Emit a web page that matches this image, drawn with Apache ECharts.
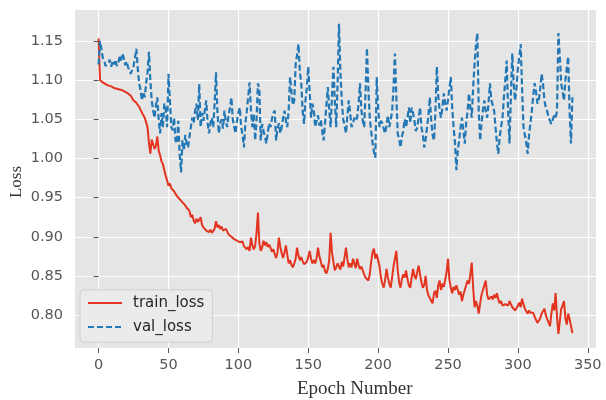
<!DOCTYPE html>
<html>
<head>
<meta charset="utf-8">
<title>Loss curves</title>
<script src="https://cdn.jsdelivr.net/npm/echarts@6/dist/echarts.min.js"></script>
<style>
  html, body { margin: 0; padding: 0; background: #ffffff; }
  #chart { width: 606px; height: 400px; }
</style>
</head>
<body>
<div id="chart"></div>
<script>
// Training loss per epoch (epochs 0..339)
const trainLoss = [
  1.153, 1.100, 1.099, 1.097, 1.098, 1.095, 1.096, 1.093, 1.094, 1.092,
  1.093, 1.090, 1.091, 1.089, 1.090, 1.088, 1.089, 1.087, 1.088, 1.085,
  1.086, 1.083, 1.084, 1.080, 1.077, 1.074, 1.075, 1.071, 1.070, 1.066,
  1.062, 1.060, 1.055, 1.052, 1.046, 1.040, 1.020, 1.006, 1.024, 1.018,
  1.012, 1.016, 1.028, 1.010, 1.004, 0.996, 0.993, 0.985, 0.978, 0.972,
  0.965, 0.968, 0.962, 0.963, 0.958, 0.955, 0.952, 0.950, 0.948, 0.946,
  0.944, 0.946, 0.940, 0.937, 0.939, 0.933, 0.925, 0.928, 0.921, 0.917,
  0.923, 0.919, 0.921, 0.925, 0.915, 0.912, 0.914, 0.908, 0.910, 0.906,
  0.909, 0.905, 0.903, 0.910, 0.920, 0.912, 0.915, 0.910, 0.913, 0.908,
  0.906, 0.910, 0.907, 0.903, 0.905, 0.900, 0.902, 0.897, 0.899, 0.895,
  0.897, 0.893, 0.891, 0.894, 0.888, 0.890, 0.884, 0.887, 0.882, 0.899,
  0.889, 0.884, 0.888, 0.905, 0.931, 0.892, 0.882, 0.886, 0.895, 0.889,
  0.893, 0.887, 0.890, 0.886, 0.881, 0.884, 0.878, 0.873, 0.880, 0.899,
  0.887, 0.879, 0.873, 0.880, 0.889, 0.877, 0.866, 0.870, 0.864, 0.861,
  0.866, 0.872, 0.886, 0.876, 0.870, 0.874, 0.869, 0.865, 0.863, 0.868,
  0.874, 0.882, 0.872, 0.866, 0.870, 0.866, 0.873, 0.886, 0.875, 0.868,
  0.861, 0.864, 0.856, 0.853, 0.859, 0.870, 0.905, 0.880, 0.868, 0.857,
  0.861, 0.866, 0.862, 0.858, 0.868, 0.862, 0.874, 0.886, 0.871, 0.861,
  0.866, 0.861, 0.872, 0.866, 0.860, 0.872, 0.864, 0.859, 0.862, 0.857,
  0.852, 0.848, 0.846, 0.844, 0.852, 0.868, 0.880, 0.885, 0.872, 0.878,
  0.876, 0.862, 0.848, 0.840, 0.835, 0.845, 0.859, 0.848, 0.840, 0.835,
  0.848, 0.862, 0.872, 0.882, 0.858, 0.842, 0.835, 0.846, 0.852, 0.848,
  0.857, 0.846, 0.838, 0.835, 0.848, 0.859, 0.850, 0.846, 0.855, 0.863,
  0.852, 0.842, 0.835, 0.838, 0.850, 0.832, 0.825, 0.822, 0.818, 0.815,
  0.828, 0.831, 0.822, 0.838, 0.844, 0.832, 0.840, 0.836, 0.845, 0.855,
  0.872, 0.845, 0.835, 0.828, 0.836, 0.832, 0.838, 0.840, 0.826, 0.830,
  0.818, 0.826, 0.832, 0.838, 0.844, 0.840, 0.852, 0.867, 0.835, 0.810,
  0.818, 0.812, 0.802, 0.815, 0.826, 0.832, 0.838, 0.844, 0.826, 0.820,
  0.818, 0.824, 0.820, 0.826, 0.822, 0.828, 0.820, 0.815, 0.818, 0.812,
  0.810, 0.814, 0.816, 0.812, 0.818, 0.814, 0.810, 0.812, 0.806, 0.808,
  0.812, 0.816, 0.810, 0.821, 0.814, 0.808, 0.805, 0.802, 0.806, 0.803,
  0.805, 0.803, 0.798, 0.794, 0.790, 0.789, 0.796, 0.802, 0.805, 0.808,
  0.800, 0.795, 0.793, 0.786, 0.802, 0.815, 0.806, 0.828, 0.798, 0.776,
  0.792, 0.808, 0.812, 0.818, 0.796, 0.788, 0.802, 0.795, 0.786, 0.777
];

// Validation loss per epoch (epochs 0..339)
const valLoss = [
  1.120, 1.150, 1.140, 1.128, 1.125, 1.118, 1.117, 1.122, 1.126, 1.117,
  1.125, 1.120, 1.126, 1.118, 1.121, 1.130, 1.125, 1.134, 1.128, 1.119,
  1.124, 1.117, 1.112, 1.108, 1.110, 1.118, 1.128, 1.140, 1.115, 1.096,
  1.087, 1.074, 1.085, 1.078, 1.096, 1.110, 1.136, 1.100, 1.074, 1.061,
  1.052, 1.068, 1.078, 1.049, 1.032, 1.058, 1.040, 1.070, 1.062, 1.040,
  1.108, 1.075, 1.040, 1.036, 1.052, 1.023, 1.019, 1.048, 1.005, 0.982,
  1.023, 1.010, 1.030, 1.019, 1.014, 1.028, 1.040, 1.052, 1.045, 1.060,
  1.070, 1.049, 1.095, 1.040, 1.058, 1.048, 1.062, 1.074, 1.045, 1.032,
  1.045, 1.052, 1.040, 1.070, 1.110, 1.060, 1.032, 1.045, 1.050, 1.038,
  1.061, 1.048, 1.040, 1.055, 1.065, 1.078, 1.050, 1.040, 1.032, 1.048,
  1.058, 1.065, 1.040, 1.030, 1.014, 1.045, 1.060, 1.078, 1.097, 1.062,
  1.040, 1.057, 1.023, 1.048, 1.096, 1.087, 1.023, 1.044, 1.035, 1.028,
  1.019, 1.032, 1.045, 1.040, 1.050, 1.058, 1.061, 1.023, 1.038, 1.045,
  1.032, 1.040, 1.052, 1.061, 1.048, 1.040, 1.062, 1.104, 1.085, 1.068,
  1.074, 1.121, 1.132, 1.146, 1.110, 1.096, 1.060, 1.044, 1.074, 1.090,
  1.117, 1.085, 1.052, 1.070, 1.061, 1.040, 1.048, 1.055, 1.042, 1.049,
  1.035, 1.023, 1.045, 1.068, 1.091, 1.062, 1.040, 1.080, 1.117, 1.075,
  1.040, 1.095, 1.172, 1.110, 1.074, 1.050, 1.042, 1.032, 1.055, 1.074,
  1.058, 1.040, 1.045, 1.052, 1.048, 1.052, 1.070, 1.096, 1.062, 1.048,
  1.040, 1.085, 1.141, 1.090, 1.052, 1.035, 1.020, 1.008, 1.001, 1.104,
  1.065, 1.040, 1.048, 1.045, 1.038, 1.032, 1.042, 1.055, 1.040, 1.049,
  1.060, 1.090, 1.134, 1.080, 1.032, 1.025, 1.014, 1.028, 1.035, 1.050,
  1.040, 1.052, 1.065, 1.045, 1.065, 1.058, 1.048, 1.035, 1.040, 1.052,
  1.065, 1.040, 1.030, 1.014, 1.025, 1.040, 1.055, 1.078, 1.048, 1.030,
  1.023, 1.060, 1.117, 1.080, 1.062, 1.052, 1.065, 1.083, 1.070, 1.061,
  1.075, 1.090, 1.104, 1.065, 1.040, 1.020, 0.985, 1.010, 1.023, 1.040,
  1.052, 1.035, 1.019, 1.045, 1.060, 1.083, 1.065, 1.052, 1.091, 1.120,
  1.145, 1.160, 1.060, 1.023, 1.045, 1.062, 1.074, 1.060, 1.052, 1.070,
  1.096, 1.075, 1.068, 1.061, 1.040, 1.020, 1.006, 1.028, 1.040, 1.052,
  1.078, 1.100, 1.125, 1.060, 1.019, 1.080, 1.134, 1.095, 1.074, 1.090,
  1.115, 1.130, 1.146, 1.090, 1.040, 1.030, 1.020, 1.006, 1.030, 1.045,
  1.061, 1.080, 1.096, 1.085, 1.070, 1.074, 1.090, 1.108, 1.095, 1.074,
  1.065, 1.060, 1.052, 1.048, 1.044, 1.050, 1.055, 1.052, 1.061, 1.160,
  1.130, 1.096, 1.085, 1.074, 1.100, 1.115, 1.130, 1.060, 1.019, 1.078
];

const xTicks = [0, 50, 100, 150, 200, 250, 300, 350];
const yTicks = [0.80, 0.85, 0.90, 0.95, 1.00, 1.05, 1.10, 1.15];
const seriesNames = ['train_loss', 'val_loss'];

const toPoints = arr => arr.map((v, i) => [i, v]);

const chart = echarts.init(document.getElementById('chart'), null, { renderer: 'canvas' });

const tickColor = '#555555';
const labelFont = 'DejaVu Sans';

chart.setOption({
  animation: false,
  backgroundColor: '#ffffff',
  grid: {
    left: 75, right: 10, top: 10, bottom: 52,
    show: true,
    backgroundColor: '#E5E5E5',
    borderWidth: 0
  },
  xAxis: {
    type: 'value',
    min: -16.9,
    max: 355.9,
    axisLine: { show: false },
    axisTick: { show: true, length: 5, lineStyle: { color: tickColor, width: 1 }, customValues: xTicks },
    axisLabel: { customValues: xTicks, color: tickColor, fontFamily: labelFont, fontSize: 14.5, margin: 10 },
    splitLine: { show: true, lineStyle: { color: '#ffffff', width: 1.2 } }
  },
  yAxis: {
    type: 'value',
    min: 0.758,
    max: 1.1895,
    axisLine: { show: false },
    axisTick: { show: true, length: 5, lineStyle: { color: tickColor, width: 1 }, customValues: yTicks },
    axisLabel: {
      customValues: yTicks, color: tickColor, fontFamily: labelFont, fontSize: 14.5, margin: 12,
      formatter: v => Number(v).toFixed(2)
    },
    splitLine: { show: true, lineStyle: { color: '#ffffff', width: 1.2 } }
  },
  legend: {
    orient: 'vertical',
    left: 80,
    top: 290,
    padding: [4, 8, 6, 7],
    itemGap: 6,
    itemWidth: 34,
    itemHeight: 14,
    itemStyle: { opacity: 0 },
    backgroundColor: '#EBEBEB',
    borderColor: '#CFCFCF',
    borderWidth: 1,
    borderRadius: 4,
    textStyle: { fontFamily: labelFont, fontSize: 15, color: '#262626', lineHeight: 18, padding: [0, 0, 0, 6] },
    data: seriesNames
  },
  graphic: [
    {
      type: 'text',
      left: 297, top: 380,
      style: { text: 'Epoch Number', fontFamily: 'Liberation Serif', fontSize: 19, fill: '#333333' }
    },
    {
      type: 'text',
      x: 8, y: 182,
      rotation: Math.PI / 2,
      style: { text: 'Loss', fontFamily: 'Liberation Serif', fontSize: 17, fill: '#333333', align: 'center', verticalAlign: 'top' }
    }
  ],
  series: [
    {
      name: seriesNames[0],
      type: 'line',
      data: toPoints(trainLoss),
      symbol: 'none',
      color: '#E2341F',
      lineStyle: { color: '#E2341F', width: 2 },
      z: 2
    },
    {
      name: seriesNames[1],
      type: 'line',
      data: toPoints(valLoss),
      symbol: 'none',
      color: '#2277B4',
      lineStyle: { color: '#2277B4', width: 2.2, type: [6, 3] },
      z: 3
    }
  ]
});
</script>
</body>
</html>
